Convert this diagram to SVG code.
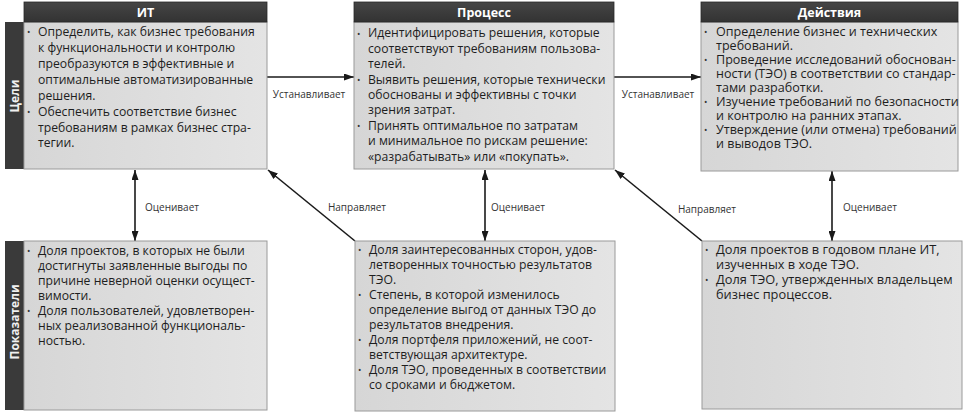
<svg xmlns="http://www.w3.org/2000/svg" width="965" height="413" viewBox="0 0 965 413">
<defs>
<linearGradient id="bodyGrad" x1="0" y1="0" x2="1" y2="0">
<stop offset="0" stop-color="#d6d6d6"/>
<stop offset="1" stop-color="#e4e4e4"/>
</linearGradient>
<linearGradient id="headGrad" x1="0" y1="0" x2="0" y2="1">
<stop offset="0" stop-color="#454545"/>
<stop offset="1" stop-color="#333333"/>
</linearGradient>
<marker id="arrow" viewBox="0 0 10 7" refX="10" refY="3.5" markerWidth="10" markerHeight="7" markerUnits="userSpaceOnUse" orient="auto-start-reverse">
<path d="M0,0 L10,3.5 L0,7 z" fill="#1a1a1a"/>
</marker>
<style>
.body{fill:url(#bodyGrad);stroke:#9a9a9a;stroke-width:1}
.head{fill:url(#headGrad);stroke:#2a2a2a;stroke-width:0.8}
.tab{fill:#3a3a3a}
.ht{font-family:"Open Sans","Noto Sans",sans-serif;font-size:12.5px;font-weight:bold;fill:#ffffff;text-anchor:middle}
.tt{font-family:"Open Sans","Noto Sans",sans-serif;font-size:12px;font-weight:bold;fill:#f0f0f0;text-anchor:middle}
.bt{font-family:"Open Sans","Noto Sans",sans-serif;font-size:12.2px;fill:#1e1e1e}
.bl{font-family:"Open Sans","Noto Sans",sans-serif;font-size:9px;fill:#333333}
.lbl{font-family:"Open Sans","Noto Sans",sans-serif;font-size:10px;fill:#333333}
.con{stroke:#1a1a1a;stroke-width:1.6;fill:none}
</style>
</defs>
<rect width="965" height="413" fill="#ffffff"/>

<g id="connectors">
<line class="con" x1="267" y1="77" x2="354" y2="77" marker-end="url(#arrow)"/>
<line class="con" x1="614" y1="77" x2="701" y2="77" marker-end="url(#arrow)"/>
<line class="con" x1="355" y1="241" x2="268" y2="170" marker-end="url(#arrow)"/>
<line class="con" x1="702" y1="241" x2="615" y2="170" marker-end="url(#arrow)"/>
<line class="con" x1="135" y1="170" x2="135" y2="241" marker-start="url(#arrow)" marker-end="url(#arrow)"/>
<line class="con" x1="485" y1="170" x2="485" y2="241" marker-start="url(#arrow)" marker-end="url(#arrow)"/>
<line class="con" x1="832" y1="171" x2="832" y2="241" marker-start="url(#arrow)" marker-end="url(#arrow)"/>
<text class="lbl" x="309" y="98" text-anchor="middle">Устанавливает</text>
<text class="lbl" x="658" y="98" text-anchor="middle">Устанавливает</text>
<text class="lbl" x="172" y="211" text-anchor="middle">Оценивает</text>
<text class="lbl" x="518" y="211" text-anchor="middle">Оценивает</text>
<text class="lbl" x="870" y="211" text-anchor="middle">Оценивает</text>
<text class="lbl" x="357" y="211" text-anchor="middle">Направляет</text>
<text class="lbl" x="707" y="213" text-anchor="middle">Направляет</text>
</g>

<g id="side-goals">
<rect class="tab" x="5" y="22" width="19" height="147"/>
<text class="tt" transform="translate(18.5,96) rotate(-90)">Цели</text>
</g>

<g id="side-metrics">
<rect class="tab" x="5" y="241" width="19" height="169"/>
<text class="tt" transform="translate(18.5,322) rotate(-90)">Показатели</text>
</g>

<g id="node-it">
<rect class="body" x="24" y="22" width="243" height="147"/>
<rect class="head" x="24" y="2" width="243" height="20"/>
<text class="ht" x="145.5" y="16.5">ИТ</text>
<text class="bl" x="27" y="35">•</text>
<text class="bl" x="27" y="115">•</text>
<text class="bt">
<tspan x="38" y="36">Определить, как бизнес требования</tspan>
<tspan x="38" y="52">к функциональности и контролю</tspan>
<tspan x="38" y="68">преобразуются в эффективные и</tspan>
<tspan x="38" y="84">оптимальные автоматизированные</tspan>
<tspan x="38" y="99.5">решения.</tspan>
<tspan x="38" y="115.5">Обеспечить соответствие бизнес</tspan>
<tspan x="38" y="131.5">требованиям в рамках бизнес стра-</tspan>
<tspan x="38" y="147.3">тегии.</tspan>
</text>
</g>

<g id="node-process">
<rect class="body" x="354" y="22" width="260" height="147"/>
<rect class="head" x="354" y="2" width="260" height="20"/>
<text class="ht" x="484" y="16.5">Процесс</text>
<text class="bl" x="357" y="36.5">•</text>
<text class="bl" x="357" y="82.7">•</text>
<text class="bl" x="357" y="128.9">•</text>
<text class="bt">
<tspan x="368" y="37.3">Идентифицировать решения, которые</tspan>
<tspan x="368" y="52.7">соответствуют требованиям пользова-</tspan>
<tspan x="368" y="68.1">телей.</tspan>
<tspan x="368" y="83.5">Выявить решения, которые технически</tspan>
<tspan x="368" y="98.9">обоснованы и эффективны с точки</tspan>
<tspan x="368" y="114.3">зрения затрат.</tspan>
<tspan x="368" y="129.7">Принять оптимальное по затратам</tspan>
<tspan x="368" y="145.1">и минимальное по рискам решение:</tspan>
<tspan x="368" y="160.5">«разрабатывать» или «покупать».</tspan>
</text>
</g>

<g id="node-actions">
<rect class="body" x="701" y="22" width="257" height="149"/>
<rect class="head" x="701" y="2" width="257" height="20"/>
<text class="ht" x="829.5" y="16.5">Действия</text>
<text class="bl" x="704" y="35">•</text>
<text class="bl" x="704" y="63">•</text>
<text class="bl" x="704" y="105">•</text>
<text class="bl" x="704" y="133">•</text>
<text class="bt" transform="translate(716,0) scale(1.03,1) translate(-716,0)">
<tspan x="716" y="35.7">Определение бизнес и технических</tspan>
<tspan x="716" y="49.7">требований.</tspan>
<tspan x="716" y="63.7">Проведение исследований обоснован-</tspan>
<tspan x="716" y="77.7">ности (ТЭО) в соответствии со стандар-</tspan>
<tspan x="716" y="91.7">тами разработки.</tspan>
<tspan x="716" y="105.7">Изучение требований по безопасности</tspan>
<tspan x="716" y="119.7">и контролю на ранних этапах.</tspan>
<tspan x="716" y="133.7">Утверждение (или отмена) требований</tspan>
<tspan x="716" y="147.7">и выводов ТЭО.</tspan>
</text>
</g>

<g id="node-it-metrics">
<rect class="body" x="24" y="241" width="243" height="169"/>
<text class="bl" x="27" y="254">•</text>
<text class="bl" x="27" y="314">•</text>
<text class="bt">
<tspan x="38" y="255">Доля проектов, в которых не были</tspan>
<tspan x="38" y="270">достигнуты заявленные выгоды по</tspan>
<tspan x="38" y="285">причине неверной оценки осущест-</tspan>
<tspan x="38" y="300">вимости.</tspan>
<tspan x="38" y="315">Доля пользователей, удовлетворен-</tspan>
<tspan x="38" y="330">ных реализованной функциональ-</tspan>
<tspan x="38" y="345">ностью.</tspan>
</text>
</g>

<g id="node-process-metrics">
<rect class="body" x="355" y="241" width="260" height="170"/>
<text class="bl" x="358" y="253">•</text>
<text class="bl" x="358" y="298">•</text>
<text class="bl" x="358" y="343">•</text>
<text class="bl" x="358" y="373">•</text>
<text class="bt">
<tspan x="369" y="254">Доля заинтересованных сторон, удов-</tspan>
<tspan x="369" y="269">летворенных точностью результатов</tspan>
<tspan x="369" y="284">ТЭО.</tspan>
<tspan x="369" y="299">Степень, в которой изменилось</tspan>
<tspan x="369" y="314">определение выгод от данных ТЭО до</tspan>
<tspan x="369" y="329">результатов внедрения.</tspan>
<tspan x="369" y="344">Доля портфеля приложений, не соот-</tspan>
<tspan x="369" y="359">ветствующая архитектуре.</tspan>
<tspan x="369" y="374">Доля ТЭО, проведенных в соответствии</tspan>
<tspan x="369" y="389">со сроками и бюджетом.</tspan>
</text>
</g>

<g id="node-actions-metrics">
<rect class="body" x="702" y="241" width="260" height="168"/>
<text class="bl" x="705" y="253">•</text>
<text class="bl" x="705" y="283">•</text>
<text class="bt" transform="translate(716,0) scale(1.05,1) translate(-716,0)">
<tspan x="716" y="254">Доля проектов в годовом плане ИТ,</tspan>
<tspan x="716" y="269">изученных в ходе ТЭО.</tspan>
<tspan x="716" y="284">Доля ТЭО, утвержденных владельцем</tspan>
<tspan x="716" y="299">бизнес процессов.</tspan>
</text>
</g>
</svg>
